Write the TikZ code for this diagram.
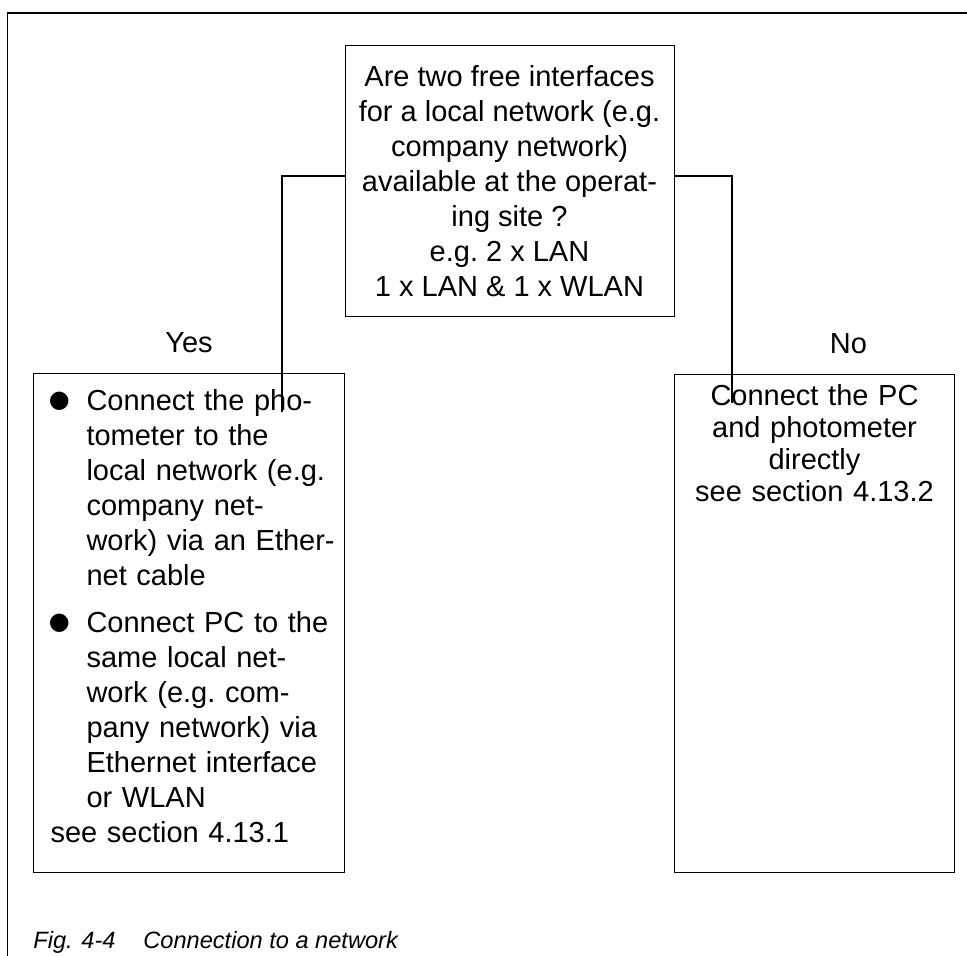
\documentclass[tikz,border=0pt]{standalone}
\usepackage{fontspec}
\setmainfont{Liberation Sans}
\newfontfamily\symfont{DejaVu Sans}
\usetikzlibrary{positioning}

\newcommand{\boxfont}{\fontsize{14.5pt}{17.5pt}\selectfont\frenchspacing}
\newcommand{\bul}{\hspace*{8.5pt}\makebox[18pt][l]{\hspace{-0.8pt}\raisebox{1.6pt}{\symfont\fontsize{12pt}{12pt}\selectfont ●}}}
\newcommand{\ind}{\hspace*{26.5pt}}
\newcommand{\lft}{\hspace*{8.5pt}}

\begin{document}
\begin{tikzpicture}[
    x=0.5pt, y=-0.5pt,
    frame/.style={line width=0.6pt},
    qbox/.style={draw, line width=0.5pt, inner sep=0pt, font=\boxfont, align=center, minimum width=164.5pt, minimum height=135.5pt},
    abox/.style={draw, line width=0.5pt, anchor=north west, inner ysep=0pt, font=\boxfont},
    lbl/.style={font=\boxfont, inner sep=0pt},
    conn/.style={line width=0.7pt},
]
\useasboundingbox (0,0) rectangle (967,956);

% Frame (top and left edge only)
\draw[frame] (7.5,956) -- (7.5,13) -- (967,13);

% Question
\node[qbox] (question) at (509.5,181.5) {Are two free interfaces\\for a local network (e.g.\\company network)\\available at the operat-\\ing site ?\\e.g. 2 x LAN\\1 x LAN \& 1 x WLAN};

% Answers
\node[abox, text width=155.5pt, inner xsep=0pt, align=left, text height=18.5pt, text depth=231pt] (yesbox) at (33,373) {%
\bul Connect the pho-\\
\ind tometer to the\\
\ind local network (e.g.\\
\ind company net-\\
\ind work) via an Ether-\\
\ind net cable\\[6pt]
\bul Connect PC to the\\
\ind same local net-\\
\ind work (e.g. com-\\
\ind pany network) via\\
\ind Ethernet interface\\
\ind or WLAN\\
\lft see section 4.13.1};
\node[abox, text width=130pt, inner xsep=5pt, align=center, text height=15.5pt, text depth=233.5pt, font=\fontsize{14.5pt}{16pt}\selectfont\frenchspacing] (nobox) at (674,374) {Connect the PC\\and photometer\\directly\\see section 4.13.2};

\node[lbl, above=10pt of yesbox] (yes) {Yes};
\node[lbl, above=10pt of nobox, xshift=17pt] (no) {No};

% Connectors
\coordinate (yesend) at (282,412);
\coordinate (noend) at (732,403);
\draw[conn] ([yshift=2.75pt]question.west) -| (yesend);
\draw[conn] ([yshift=2.75pt]question.east) -| (noend);

% Caption
\node[inner sep=0pt, anchor=base west, font=\fontsize{11.8pt}{14pt}\selectfont\itshape] (caption) at (33,948) {\makebox[55pt][l]{Fig. 4-4}Connection to a network};
\end{tikzpicture}
\end{document}
